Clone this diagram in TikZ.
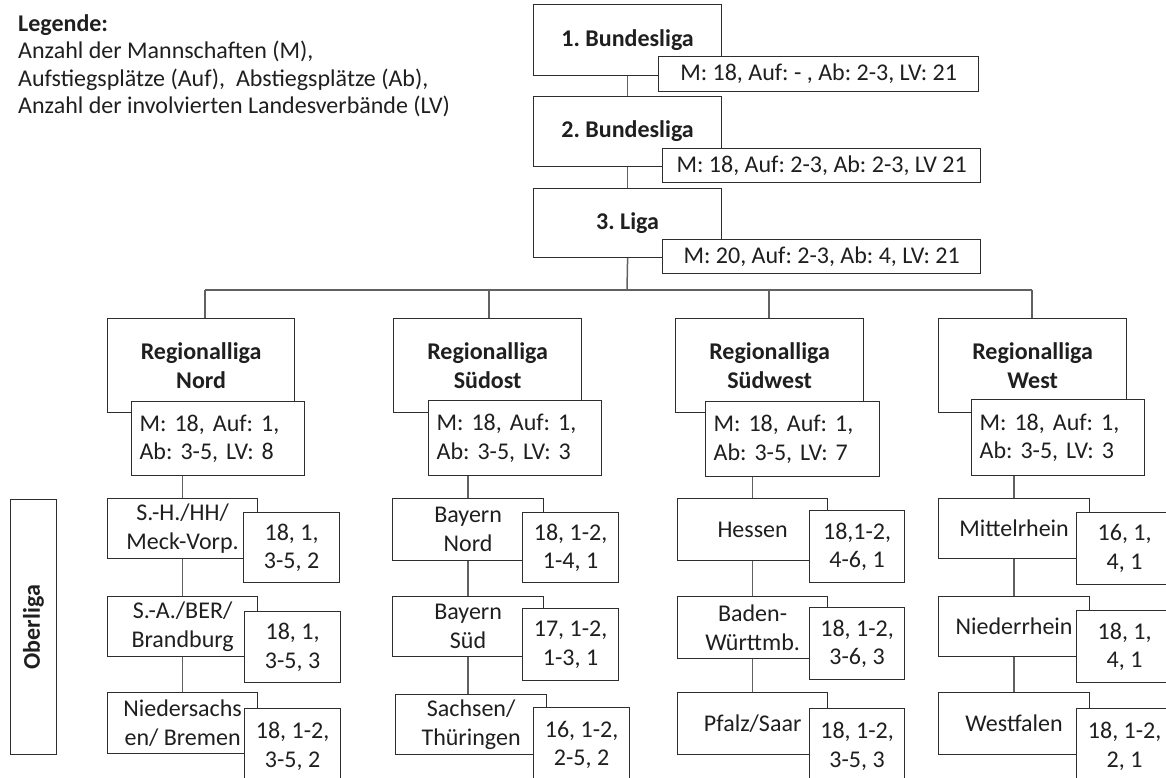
\documentclass[tikz,border=0pt]{standalone}
\usepackage{fontspec}
\setmainfont{Carlito}
\usetikzlibrary{backgrounds}
\tikzset{
  txt/.style={font=\fontsize{24}{28.5}\selectfont\frenchspacing, text=black!88},
  boxbase/.style={txt, draw=black!82, line width=1.2pt, fill=white, inner sep=0pt, align=center, anchor=north west},
  mainbox/.style={boxbase},
  headbox/.style={boxbase, font=\fontsize{24}{28.5}\selectfont\frenchspacing\bfseries},
  statbox/.style={boxbase},
  statleft/.style={boxbase, align=left, inner xsep=8pt},
  conn/.style={draw=black!62, line width=1.5pt},
}
\begin{document}
\begin{tikzpicture}[x=1pt,y=-1pt]
\useasboundingbox (0,0) rectangle (1166,777);
\clip (0,0) rectangle (1166,777);

% legend
\node[txt, font=\fontsize{24}{27.6}\selectfont\frenchspacing, align=left, anchor=north west, inner sep=0pt] (legend) at (18,14)
  {\textbf{Legende:}\\Anzahl der Mannschaften (M),\\Aufstiegspl\"atze (Auf),\ \ Abstiegspl\"atze (Ab),\\Anzahl der involvierten Landesverb\"ande (LV)};

% top leagues
\node[headbox, minimum width=188pt, minimum height=71pt] (bl1) at (533,4) {1. Bundesliga};
\node[statbox, minimum width=320pt, minimum height=35pt] (bl1s) at (658,56) {M: 18, Auf: - , Ab: 2-3, LV: 21};
\node[headbox, minimum width=188pt, minimum height=70pt] (bl2) at (533,96) {2. Bundesliga};
\node[statbox, minimum width=318pt, minimum height=34pt] (bl2s) at (662,148) {M: 18, Auf: 2-3, Ab: 2-3, LV 21};
\node[headbox, minimum width=188pt, minimum height=69pt] (l3) at (533,188) {3. Liga};
\node[statbox, minimum width=318pt, minimum height=34pt] (l3s) at (662,239) {M: 20, Auf: 2-3, Ab: 4, LV: 21};

% regional leagues
\node[headbox, minimum width=187pt, minimum height=94pt] (rn) at (107,318) {Regionalliga\\Nord};
\node[statleft, text width=157pt, minimum height=74pt] (rns) at (131,401) {M: 18, Auf: 1,\\Ab: 3-5, LV: 8};
\node[headbox, minimum width=188pt, minimum height=94pt] (rso) at (393,318) {Regionalliga\\S\"udost};
\node[statleft, text width=157pt, minimum height=75pt] (rsos) at (428,400) {M: 18, Auf: 1,\\Ab: 3-5, LV: 3};
\node[headbox, minimum width=188pt, minimum height=94pt] (rsw) at (675,318) {Regionalliga\\S\"udwest};
\node[statleft, text width=158pt, minimum height=75pt] (rsws) at (705,401) {M: 18, Auf: 1,\\Ab: 3-5, LV: 7};
\node[headbox, minimum width=188pt, minimum height=94pt] (rw) at (938,318) {Regionalliga\\West};
\node[statleft, text width=157pt, minimum height=76pt] (rws) at (971,399) {M: 18, Auf: 1,\\Ab: 3-5, LV: 3};

% Oberliga label
\node[boxbase, minimum width=46pt, minimum height=255pt] (ol) at (10,499) {};
\node[txt, font=\fontsize{24}{28.5}\selectfont\bfseries, rotate=90] (oltxt) at (ol.center) {Oberliga};

% Nord column
\node[mainbox, minimum width=150pt, minimum height=60pt] (on1) at (107,498) {S.-H./HH/\\Meck-Vorp.};
\node[statbox, minimum width=96pt, minimum height=70pt] (on1s) at (243,512) {18, 1,\\3-5, 2};
\node[mainbox, minimum width=150pt, minimum height=60pt] (on2) at (107,596) {S.-A./BER/\\Brandburg};
\node[statbox, minimum width=96pt, minimum height=71pt] (on2s) at (244,611) {18, 1,\\3-5, 3};
\node[mainbox, minimum width=150pt, minimum height=61pt] (on3) at (107,692) {Niedersachs\\en/ Bremen};
\node[statbox, minimum width=96pt, minimum height=75pt] (on3s) at (244,708) {18, 1-2,\\3-5, 2};

% Suedost column
\node[mainbox, minimum width=151pt, minimum height=62pt] (os1) at (392,498) {Bayern\\Nord};
\node[statbox, minimum width=96pt, minimum height=70pt] (os1s) at (522,512) {18, 1-2,\\1-4, 1};
\node[mainbox, minimum width=151pt, minimum height=60pt] (os2) at (392,596) {Bayern\\S\"ud};
\node[statbox, minimum width=96pt, minimum height=72pt] (os2s) at (522,608) {17, 1-2,\\1-3, 1};
\node[mainbox, minimum width=151pt, minimum height=60pt] (os3) at (395,694) {Sachsen/\\Th\"uringen};
\node[statbox, minimum width=96pt, minimum height=75pt] (os3s) at (533,707) {16, 1-2,\\2-5, 2};

% Suedwest column
\node[mainbox, minimum width=150pt, minimum height=62pt] (osw1) at (677,498) {Hessen};
\node[statbox, minimum width=95pt, minimum height=72pt] (osw1s) at (809,510) {18,1-2,\\4-6, 1};
\node[mainbox, minimum width=150pt, minimum height=62pt] (osw2) at (677,596) {Baden-\\W\"urttmb.};
\node[statbox, minimum width=95pt, minimum height=72pt] (osw2s) at (809,607) {18, 1-2,\\3-6, 3};
\node[mainbox, minimum width=150pt, minimum height=62pt] (osw3) at (677,692) {Pfalz/Saar};
\node[statbox, minimum width=95pt, minimum height=75pt] (osw3s) at (809,708) {18, 1-2,\\3-5, 3};

% West column
\node[mainbox, minimum width=151pt, minimum height=60pt] (ow1) at (938,498) {Mittelrhein};
\node[statbox, minimum width=96pt, minimum height=72pt] (ow1s) at (1076,512) {16, 1,\\4, 1};
\node[mainbox, minimum width=151pt, minimum height=60pt] (ow2) at (938,596) {Niederrhein};
\node[statbox, minimum width=96pt, minimum height=72pt] (ow2s) at (1076,610) {18, 1,\\4, 1};
\node[mainbox, minimum width=151pt, minimum height=62pt] (ow3) at (938,692) {Westfalen};
\node[statbox, minimum width=96pt, minimum height=75pt] (ow3s) at (1076,708) {18, 1-2,\\2, 1};

% connectors
\coordinate (hub) at (627,290);
\coordinate (d1) at (205,290);
\coordinate (d2) at (489,290);
\coordinate (d3) at (769,290);
\coordinate (d4) at (1032,290);
\begin{pgfonlayer}{background}
\draw[conn] (bl1.south) -- (bl2.north);
\draw[conn] (bl2.south) -- (l3.north);
\draw[conn] (l3.south) -- (hub);
\draw[conn] (d1) -- (d4);
\draw[conn] (d1) -- (d1 |- rn.north);
\draw[conn] (d2) -- (d2 |- rso.north);
\draw[conn] (d3) -- (d3 |- rsw.north);
\draw[conn] (d4) -- (d4 |- rw.north);
\draw[conn] (on1.north) -- (on1.north |- rns.south);
\draw[conn] (os1.north) -- (os1.north |- rsos.south);
\draw[conn] (osw1.north) -- (osw1.north |- rsws.south);
\draw[conn] (ow1.north) -- (ow1.north |- rws.south);
\draw[conn] (on1.south) -- (on2.north);
\draw[conn] (on2.south) -- (on3.north);
\draw[conn] (os1.south) -- (os2.north);
\draw[conn] (os2.south) -- (os2.south |- os3.north);
\draw[conn] (osw1.south) -- (osw2.north);
\draw[conn] (osw2.south) -- (osw3.north);
\draw[conn] (ow1.south) -- (ow2.north);
\draw[conn] (ow2.south) -- (ow3.north);
\end{pgfonlayer}
\end{tikzpicture}
\end{document}
